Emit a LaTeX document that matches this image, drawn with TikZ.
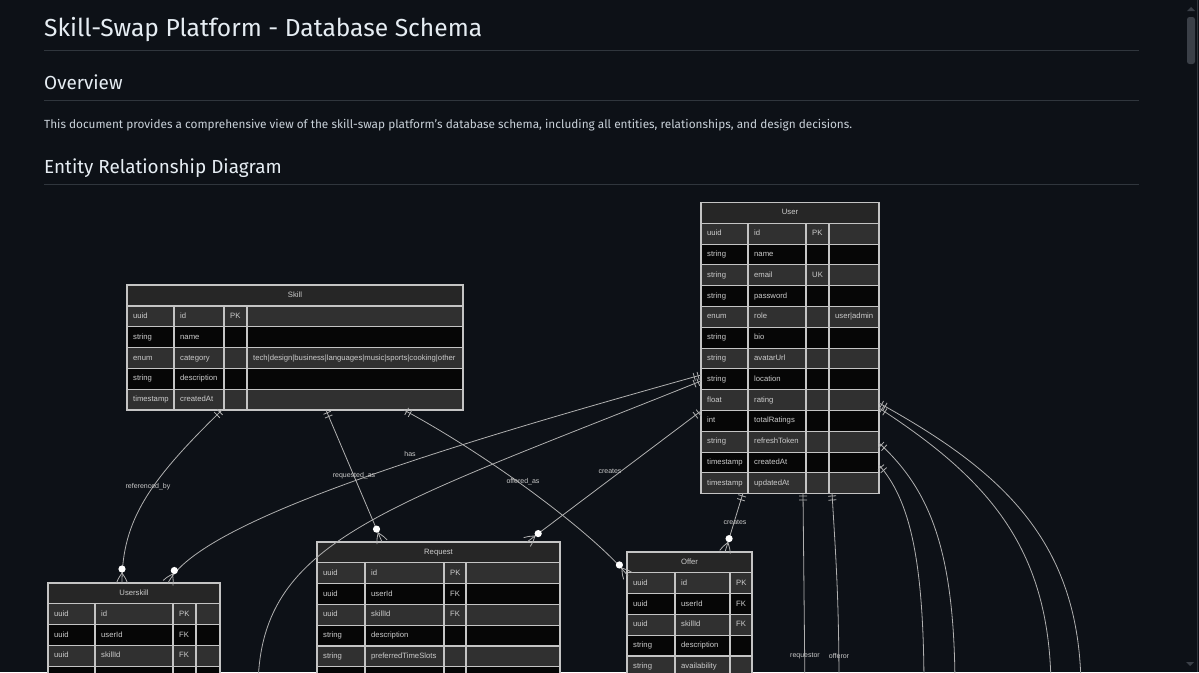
\documentclass[tikz,border=0pt]{standalone}
\usepackage{fontspec}
\setmainfont{Fira Sans}
\newfontfamily\erfont{Liberation Sans}
\usetikzlibrary{calc}
\definecolor{pagebg}{HTML}{0D1117}
\definecolor{headtext}{HTML}{E6EDF3}
\definecolor{bodytext}{HTML}{C9D1D9}
\definecolor{rulegray}{HTML}{30363D}
\definecolor{cellline}{HTML}{C4C4C4}
\definecolor{cellhead}{HTML}{262626}
\definecolor{rowgray}{HTML}{303030}
\definecolor{rowblack}{HTML}{060606}
\definecolor{celltext}{HTML}{CCCCCC}
\definecolor{linkgray}{HTML}{B0B0B0}
\definecolor{thumbgray}{HTML}{3B4048}

\tikzset{
  erbox/.style={draw=cellline, line width=1.1pt},
  ertxt/.style={font=\erfont\fontsize{7.7}{9}\selectfont, text=celltext, inner sep=0pt, text height=5.6pt, text depth=1.6pt},
  link/.style={draw=linkgray, line width=0.8pt},
  linklabel/.style={font=\erfont\fontsize{7}{8}\selectfont, text=celltext, inner sep=1pt},
  heading/.style={anchor=base west, text=headtext, inner sep=0pt},
  hrule/.style={draw=rulegray, line width=1pt}
}

% header and cell of an entity table
\newcommand{\erhead}[5]{%
  \draw[erbox, fill=cellhead] (#2,#4) rectangle (#3,#4+20.8);
  \node[ertxt] (#1) at ({(#2+#3)/2},#4+10.4) {#5};}
\newcommand{\ercell}[6]{%
  \draw[erbox, fill=#5] (#2,#4) rectangle (#3,#4+20.8);
  \node[ertxt, anchor=west] (#1) at (#2+6,#4+10.4) {#6};}

% crow's foot ends: exactly one / zero or more
\newcommand{\oneend}[2]{%
  \draw[link] ($(#1)!3pt!(#2)!4pt!90:(#2)$) -- ($(#1)!3pt!(#2)!4pt!-90:(#2)$);
  \draw[link] ($(#1)!7pt!(#2)!4pt!90:(#2)$) -- ($(#1)!7pt!(#2)!4pt!-90:(#2)$);}
\newcommand{\manyend}[2]{%
  \fill[white] ($(#1)!14pt!(#2)$) circle (3.6pt);
  \draw[link] ($(#1)!10pt!(#2)$) .. controls ($(#1)!4pt!(#2)!4pt!90:(#2)$) .. ($(#1)!5.5pt!90:(#2)$);
  \draw[link] ($(#1)!10pt!(#2)$) .. controls ($(#1)!4pt!(#2)!4pt!-90:(#2)$) .. ($(#1)!5.5pt!-90:(#2)$);}

\begin{document}
\begin{tikzpicture}[x=1pt, y=-1pt]
  \fill[pagebg] (0,0) rectangle (1199,672);
  \useasboundingbox (0,0) rectangle (1199,672);
  \clip (0,0) rectangle (1199,672);

  % page text
  \node[heading, font=\fontsize{24.6}{29}\selectfont] (title) at (44,36) {Skill-Swap Platform - Database Schema};
  \draw[hrule] (44,50.5) -- (1139,50.5);
  \node[heading, font=\fontsize{18.9}{22}\selectfont] (overview) at (44,89) {Overview};
  \draw[hrule] (44,100.5) -- (1139,100.5);
  \node[heading, text=bodytext, font=\fontsize{11.8}{14}\selectfont] (intro) at (44,128) {This document provides a comprehensive view of the skill-swap platform's database schema, including all entities, relationships, and design decisions.};
  \node[heading, font=\fontsize{18.9}{22}\selectfont] (erd) at (44,173) {Entity Relationship Diagram};
  \draw[hrule] (44,184) -- (1139,184);

  % Skill
  \erhead{skill}{127}{463}{285}{Skill}
  \foreach \ty/\nm/\ky/\cm [count=\i from 0] in {uuid/id/PK/{}, string/name/{}/{}, enum/category/{}/tech|design|business|languages|music|sports|cooking|other, string/description/{}/{}, timestamp/createdAt/{}/{}}{
    \pgfmathsetmacro\rowy{306+20.8*\i}
    \ifodd\i\relax\def\rowfill{rowblack}\else\def\rowfill{rowgray}\fi
    \ercell{skill-\i-a}{127}{174}{\rowy}{\rowfill}{\ty}
    \ercell{skill-\i-b}{174}{224}{\rowy}{\rowfill}{\nm}
    \ercell{skill-\i-c}{224}{247}{\rowy}{\rowfill}{\ky}
    \ercell{skill-\i-d}{247}{463}{\rowy}{\rowfill}{\cm}
  }

  % User
  \erhead{user}{701}{879}{202.5}{User}
  \foreach \ty/\nm/\ky/\cm [count=\i from 0] in {uuid/id/PK/{}, string/name/{}/{}, string/email/UK/{}, string/password/{}/{}, enum/role/{}/user|admin, string/bio/{}/{}, string/avatarUrl/{}/{}, string/location/{}/{}, float/rating/{}/{}, int/totalRatings/{}/{}, string/refreshToken/{}/{}, timestamp/createdAt/{}/{}, timestamp/updatedAt/{}/{}}{
    \pgfmathsetmacro\rowy{223.3+20.8*\i}
    \ifodd\i\relax\def\rowfill{rowblack}\else\def\rowfill{rowgray}\fi
    \ercell{user-\i-a}{701}{748}{\rowy}{\rowfill}{\ty}
    \ercell{user-\i-b}{748}{806}{\rowy}{\rowfill}{\nm}
    \ercell{user-\i-c}{806}{829}{\rowy}{\rowfill}{\ky}
    \ercell{user-\i-d}{829}{879}{\rowy}{\rowfill}{\cm}
  }

  % Request
  \erhead{request}{317}{560}{542}{Request}
  \foreach \ty/\nm/\ky/\cm [count=\i from 0] in {uuid/id/PK/{}, uuid/userId/FK/{}, uuid/skillId/FK/{}, string/description/{}/{}, string/preferredTimeSlots/{}/{}, {}/{}/{}/{}}{
    \pgfmathsetmacro\rowy{562.8+20.8*\i}
    \ifodd\i\relax\def\rowfill{rowblack}\else\def\rowfill{rowgray}\fi
    \ercell{request-\i-a}{317}{365}{\rowy}{\rowfill}{\ty}
    \ercell{request-\i-b}{365}{444}{\rowy}{\rowfill}{\nm}
    \ercell{request-\i-c}{444}{466}{\rowy}{\rowfill}{\ky}
    \ercell{request-\i-d}{466}{560}{\rowy}{\rowfill}{\cm}
  }

  % Offer
  \erhead{offer}{627}{752}{552}{Offer}
  \foreach \ty/\nm/\ky [count=\i from 0] in {uuid/id/PK, uuid/userId/FK, uuid/skillId/FK, string/description/{}, string/availability/{}}{
    \pgfmathsetmacro\rowy{572.8+20.8*\i}
    \ifodd\i\relax\def\rowfill{rowblack}\else\def\rowfill{rowgray}\fi
    \ercell{offer-\i-a}{627}{675}{\rowy}{\rowfill}{\ty}
    \ercell{offer-\i-b}{675}{730}{\rowy}{\rowfill}{\nm}
    \ercell{offer-\i-c}{730}{752}{\rowy}{\rowfill}{\ky}
  }

  % UserSkill
  \erhead{userskill}{48}{220}{583}{Userskill}
  \foreach \ty/\nm/\ky/\cm [count=\i from 0] in {uuid/id/PK/{}, uuid/userId/FK/{}, uuid/skillId/FK/{}, {}/{}/{}/{}}{
    \pgfmathsetmacro\rowy{603.8+20.8*\i}
    \ifodd\i\relax\def\rowfill{rowblack}\else\def\rowfill{rowgray}\fi
    \ercell{userskill-\i-a}{48}{95}{\rowy}{\rowfill}{\ty}
    \ercell{userskill-\i-b}{95}{173}{\rowy}{\rowfill}{\nm}
    \ercell{userskill-\i-c}{173}{196}{\rowy}{\rowfill}{\ky}
    \ercell{userskill-\i-d}{196}{220}{\rowy}{\rowfill}{\cm}
  }

  % link ends
  \coordinate (skRef) at (222,410);
  \coordinate (usRef) at (122,583);
  \coordinate (skReq) at (326,410);
  \coordinate (rqSkill) at (382,542);
  \coordinate (skOff) at (404,410);
  \coordinate (ofSkill) at (628,576);
  \coordinate (urHas) at (701,375);
  \coordinate (usHas) at (168,583);
  \coordinate (urLow) at (701,381);
  \coordinate (lowEnd) at (258,690);
  \coordinate (urReq) at (701,411);
  \coordinate (rqUser) at (527,542);
  \coordinate (urOff) at (743,493);
  \coordinate (ofUser) at (725,552);
  \coordinate (urRqr) at (803,493);
  \coordinate (rqrEnd) at (805,690);
  \coordinate (urOfr) at (832,493);
  \coordinate (ofrEnd) at (839,690);
  \coordinate (urR1) at (879,403);
  \coordinate (r1End) at (1081,690);
  \coordinate (urR2) at (879,408);
  \coordinate (r2End) at (1051,690);
  \coordinate (urR3) at (879,443);
  \coordinate (r3End) at (955,690);
  \coordinate (urR4) at (879,465);
  \coordinate (r4End) at (924,690);

  % links
  \draw[link] (skRef) .. controls (150,480) and (122,520) .. (usRef);
  \oneend{skRef}{150,480}
  \manyend{usRef}{122,520}
  \draw[link] (skReq) -- (rqSkill);
  \oneend{skReq}{rqSkill}
  \manyend{rqSkill}{skReq}
  \draw[link] (skOff) .. controls (500,462) and (600,540) .. (ofSkill);
  \oneend{skOff}{500,462}
  \manyend{ofSkill}{600,540}
  \draw[link] (urHas) .. controls (450,445) and (200,520) .. (usHas);
  \oneend{urHas}{450,445}
  \manyend{usHas}{200,520}
  \draw[link] (urLow) .. controls (380,510) and (258,540) .. (lowEnd);
  \oneend{urLow}{380,510}
  \draw[link] (urReq) -- (rqUser);
  \oneend{urReq}{rqUser}
  \manyend{rqUser}{urReq}
  \draw[link] (urOff) -- (ofUser);
  \oneend{urOff}{ofUser}
  \manyend{ofUser}{urOff}
  \draw[link] (urRqr) -- (rqrEnd);
  \oneend{urRqr}{rqrEnd}
  \draw[link] (urOfr) .. controls (836,560) and (839,600) .. (ofrEnd);
  \oneend{urOfr}{836,560}
  \draw[link] (urR1) .. controls (1000,470) and (1081,540) .. (r1End);
  \oneend{urR1}{1000,470}
  \draw[link] (urR2) .. controls (990,480) and (1051,550) .. (r2End);
  \oneend{urR2}{990,480}
  \draw[link] (urR3) .. controls (930,490) and (955,550) .. (r3End);
  \oneend{urR3}{930,490}
  \draw[link] (urR4) .. controls (910,500) and (924,560) .. (r4End);
  \oneend{urR4}{910,500}

  % link labels
  \node[linklabel] (lRef) at (148,487) {referenced\_by};
  \node[linklabel] (lReq) at (354,476) {requested\_as};
  \node[linklabel] (lOff) at (523,482) {offered\_as};
  \node[linklabel] (lHas) at (410,454) {has};
  \node[linklabel] (lCrR) at (610,471) {creates};
  \node[linklabel] (lCrO) at (735,522) {creates};
  \node[linklabel] (lRqr) at (805,656) {requestor};
  \node[linklabel] (lOfr) at (839,656) {offeror};

  % scrollbar
  \draw[rulegray, line width=1pt] (1197.5,0) -- (1197.5,672);
  \fill[thumbgray, rounded corners=2.5pt] (1187,17) rectangle (1195,64);
  \fill[thumbgray] (1187,11) -- (1195,11) -- (1191,7) -- cycle;
  \fill[thumbgray] (1186,662) -- (1194,662) -- (1190,666) -- cycle;
\end{tikzpicture}
\end{document}
